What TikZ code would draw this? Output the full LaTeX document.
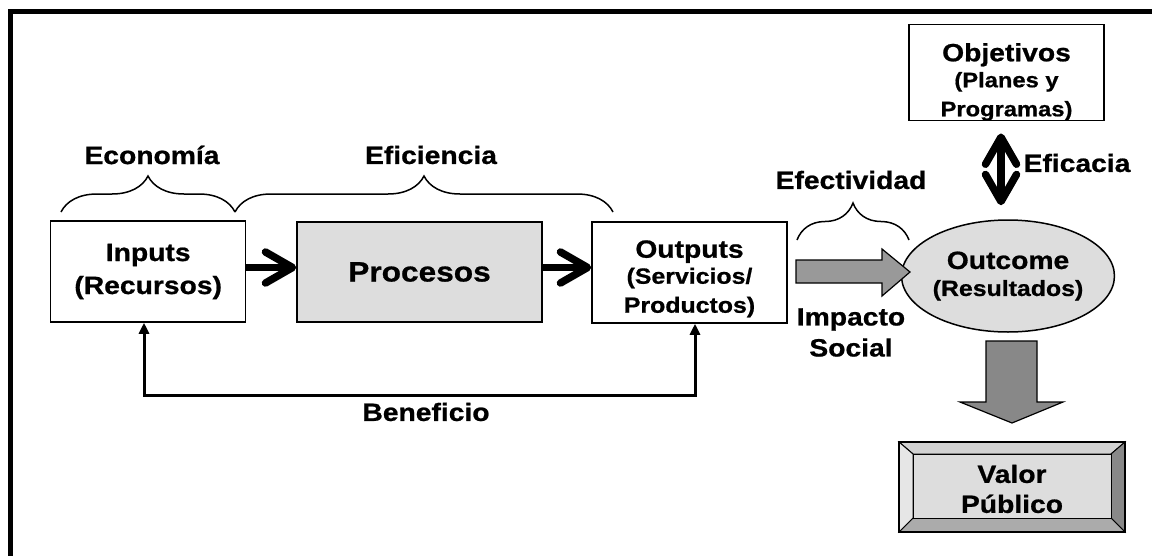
\documentclass[tikz,border=0pt]{standalone}
\usepackage{fontspec}
\setmainfont{Liberation Sans}[FakeStretch=1.13, BoldFeatures={FakeBold=0.8}]
\usetikzlibrary{arrows.meta,decorations.pathreplacing,shapes.geometric}

\definecolor{facegray}{HTML}{DDDDDD}
\definecolor{flowgray}{HTML}{999999}
\definecolor{dropgray}{HTML}{888888}
\definecolor{bevtop}{HTML}{D2D2D2}
\definecolor{bevleft}{HTML}{E6E6E6}
\definecolor{bevright}{HTML}{888888}
\definecolor{bevbottom}{HTML}{ABABAB}

\tikzset{
  head/.style={font=\bfseries\fontsize{25}{29}\selectfont},
  txt/.style={head, inner sep=0pt, align=center},
  box/.style={draw=black, line width=1.5pt, align=center, inner sep=0pt, head},
  brace/.style={decorate, decoration={brace, amplitude=#1}, line width=1.5pt},
  barb/.tip={Straight Barb[length=27pt,width=31pt,line join=round,line cap=round]},
  bigarrow/.style={line width=7.5pt, -barb},
  bothbig/.style={line width=7.5pt, barb-barb},
  backflow/.style={line width=3pt, miter limit=10,
    {Triangle[length=11pt,width=10pt]}-{Triangle[length=11pt,width=10pt]}},
  blockarrow/.style={draw=black, line width=1.2pt, line join=miter}
}

\begin{document}
\begin{tikzpicture}[x=1pt,y=-1pt]
\useasboundingbox (0,0) rectangle (1152,555);

% frame, open to the right and bottom
\draw[line width=5.5pt, line join=miter] (10.5,570) -- (10.5,11.5) -- (1170,11.5);

% process chain
\node[box, minimum width=195, minimum height=101] (inputs) at (148.2,271.5)
  {Inputs\\[4pt](Recursos)};
\node[box, fill=facegray, minimum width=245, minimum height=100, font=\bfseries\fontsize{28}{32}\selectfont]
  (procesos) at (419.5,272) {Procesos};
\node[box, minimum width=195, minimum height=101] (outputs) at (689.5,272.5)
  {\rule{0pt}{30pt}Outputs\\[-3pt]\fontsize{22}{26}\selectfont(Servicios/\\\fontsize{22}{26}\selectfont Productos)};

\coordinate (row) at (0,267.5);
\draw[bigarrow] (inputs.east |- row) -- (procesos.west |- row);
\draw[bigarrow] (procesos.east |- row) -- (outputs.west |- row);

% feedback loop
\coordinate (fbR) at (695,395);
\coordinate (fbL) at (144,395);
\draw[backflow] (outputs.south -| fbR) -- (fbR) -- (fbL) -- (inputs.south -| fbL);
\node[txt] (beneficio) at (426,412) {Beneficio};

% braces and their labels
\draw[brace=36] (61,212) -- (235,212);
\node[txt] (economia) at (152,155) {Economía};
\draw[brace=36] (235,212) -- (613,212);
\node[txt] (eficiencia) at (431,155) {Eficiencia};
\draw[brace=37] (797,240) -- (909,240);
\node[txt] (efectividad) at (851,180) {Efectividad};

% outcome
\node[draw=black, line width=1.5pt, fill=facegray, ellipse, minimum width=174, minimum height=112,
  inner sep=0pt, align=center, head] (outcome) at (1008,276)
  {Outcome\\[-2pt]\fontsize{22}{26}\selectfont(Resultados)};

% social impact arrow
\coordinate (ia) at (796,272);
\filldraw[blockarrow, fill=flowgray]
  (ia) ++(0,-12) -- ++(86,0) -- ++(0,-11) -- (910,272) -- (882,296) -- (882,283) -- (796,283) -- cycle;
\node[txt] (impacto) at (851,332.5) {Impacto\\[2pt]Social};

% objectives
\node[box, minimum width=195, minimum height=91] (objetivos) at (1006.5,72.5)
  {\rule{0pt}{37pt}Objetivos\\[-3pt]\fontsize{21}{27}\selectfont(Planes y\\\fontsize{21}{27}\selectfont Programas)};
\draw[bothbig, shorten <=12pt, shorten >=14pt] (objetivos.south -| 1001,0) -- (outcome.north -| 1001,0);
\node[txt] (eficacia) at (1077,163) {Eficacia};

% drop arrow to public value
\filldraw[blockarrow, fill=dropgray]
  (986,341) -- (1037,341) -- (1037,402) -- (1063,402) -- (1012,423) -- (960,402) -- (986,402) -- cycle;

% bevelled public value button
\coordinate (otl) at (899,442); \coordinate (otr) at (1125,442);
\coordinate (obr) at (1125,532); \coordinate (obl) at (899,532);
\coordinate (itl) at (913,454); \coordinate (itr) at (1111,454);
\coordinate (ibr) at (1111,518); \coordinate (ibl) at (913,518);
\filldraw[fill=bevtop, line width=1pt] (otl) -- (otr) -- (itr) -- (itl) -- cycle;
\filldraw[fill=bevright, line width=1pt] (otr) -- (obr) -- (ibr) -- (itr) -- cycle;
\filldraw[fill=bevbottom, line width=1pt] (obr) -- (obl) -- (ibl) -- (ibr) -- cycle;
\filldraw[fill=bevleft, line width=1pt] (obl) -- (otl) -- (itl) -- (ibl) -- cycle;
\node[box, line width=1pt, fill=facegray, minimum width=198, minimum height=64] (valor) at (1012,486)
  {\rule{0pt}{24pt}Valor\\[1pt]Público};
\draw[line width=1.5pt] (otl) rectangle (obr);
\end{tikzpicture}
\end{document}
